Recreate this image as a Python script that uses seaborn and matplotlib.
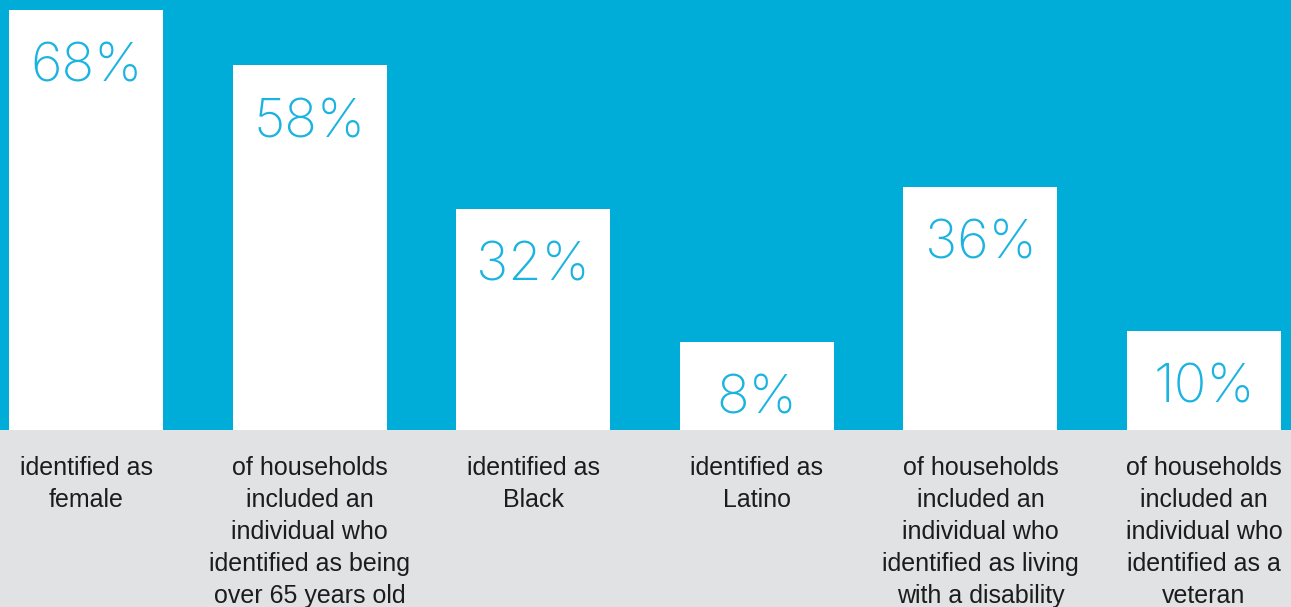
import numpy as np
import matplotlib
matplotlib.use("Agg")
import matplotlib.pyplot as plt
import seaborn as sns
import pandas as pd

# ---- data ----
categories = ["Female", "Over 65", "Black", "Latino", "Disability", "Veteran"]
values = [68, 58, 32, 8, 36, 10]
value_labels = ["68%", "58%", "32%", "8%", "36%", "10%"]
descriptions = [
    "identified as\nfemale",
    "of households\nincluded an\nindividual who\nidentified as being\nover 65 years old",
    "identified as\nBlack",
    "identified as\nLatino",
    "of households\nincluded an\nindividual who\nidentified as living\nwith a disability",
    "of households\nincluded an\nindividual who\nidentified as a\nveteran",
]

# ---- style ----
BLUE = "#00ADD9"
LABEL_BLUE = "#1BB3E0"
GREY = "#E1E2E4"
TEXT = "#1C1C1C"

sns.set_theme(style="white")
plt.rcParams['font.family'] = ['Liberation Sans', 'DejaVu Sans']

fig = plt.figure(figsize=(12.91, 6.07), dpi=100, facecolor=GREY)
ax = fig.add_axes([0, 177 / 607, 1, 430 / 607])
ax.set_facecolor(BLUE)

df = pd.DataFrame({"category": categories, "value": values})
sns.barplot(data=df, x="category", y="value", color="white", saturation=1,
            width=154 / 223.6, edgecolor="none", linewidth=0, ax=ax)

# infographic-style broken baseline: small bars are lifted so labels fit
LIFT = 8.0
def fwd(v):
    v = np.asarray(v, dtype=float)
    return np.where(v > 0, v + LIFT * (1 - np.exp(-v / 0.05)), v)
_grid = np.linspace(-50, 200, 200001)
_fgrid = fwd(_grid)
def inv(u):
    return np.interp(u, _fgrid, _grid)
ax.set_yscale('function', functions=(fwd, inv))
ax.set_ylim(0, 69.8)
ax.set_xlim(-0.385, 5.389)

for i, (v, lab) in enumerate(zip(values, value_labels)):
    ax.annotate(lab, xy=(i, v), xytext=(0, -72), textcoords='offset pixels',
                ha='center', va='baseline', fontsize=39, color=LABEL_BLUE,
                family=['Inter', 'DejaVu Sans'], fontweight='light')

ax.set_xticks(range(len(descriptions)))
ax.set_xticklabels(descriptions, fontsize=18, color=TEXT, linespacing=1.42, va='top')
ax.tick_params(axis='x', length=0, pad=18.5)
ax.set_yticks([])
ax.set_xlabel('')
ax.set_ylabel('')
for s in ax.spines.values():
    s.set_visible(False)

fig.savefig('out.png', dpi=100, facecolor=GREY)
